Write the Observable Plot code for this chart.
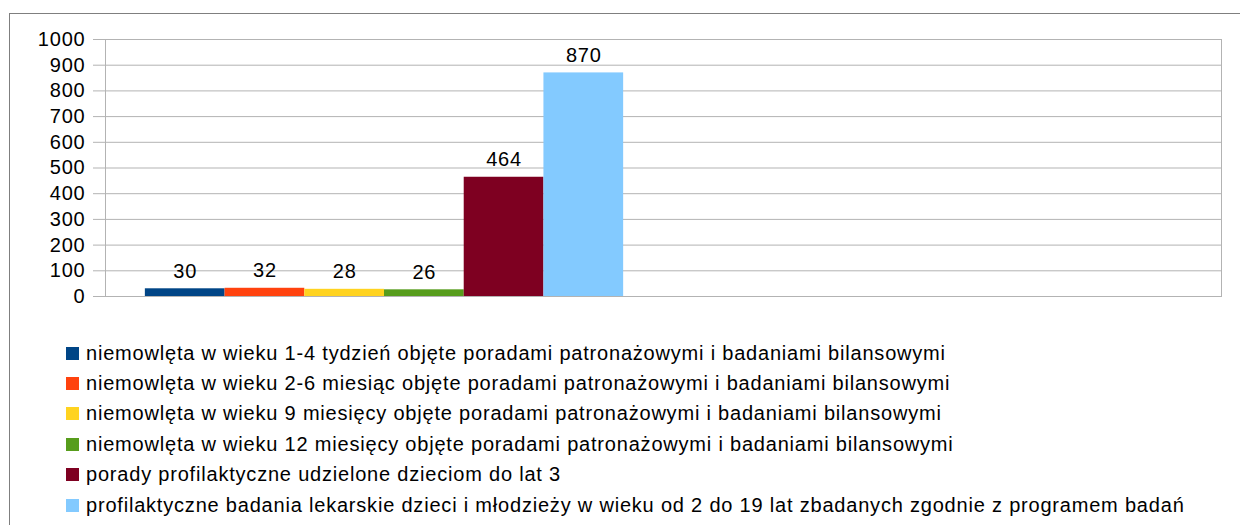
<!DOCTYPE html>
<html>
<head>
<meta charset="utf-8">
<script src="https://cdn.jsdelivr.net/npm/d3@7"></script>
<script src="https://cdn.jsdelivr.net/npm/@observablehq/plot@0.6"></script>
<style>
  html, body { margin: 0; padding: 0; background: #fff; width: 1240px; height: 525px; overflow: hidden; }
  body { position: relative; font-family: "Liberation Sans", Arial, sans-serif; }
  #frame { position: absolute; left: 9px; top: 13px; width: 1300px; height: 600px; border: 1px solid #7f7f7f; box-sizing: border-box; }
  #chart { position: absolute; left: 0; top: 0; }
  #legend { position: absolute; left: 66px; top: 338px; font-size: 20px; letter-spacing: 0.8px; color: #000; }
  .item { display: flex; align-items: center; height: 30.4px; white-space: nowrap; }
  .sw { width: 13px; height: 13px; margin-right: 7px; flex: none; }
</style>
</head>
<body>
<div id="frame"></div>
<div id="chart"></div>
<div id="legend"></div>
<script>
const series = [
  "niemowlęta w wieku 1-4 tydzień objęte poradami patronażowymi i badaniami bilansowymi",
  "niemowlęta w wieku 2-6 miesiąc objęte poradami patronażowymi i badaniami bilansowymi",
  "niemowlęta w wieku 9 miesięcy objęte poradami patronażowymi i badaniami bilansowymi",
  "niemowlęta w wieku 12 miesięcy objęte poradami patronażowymi i badaniami bilansowymi",
  "porady profilaktyczne udzielone dzieciom do lat 3",
  "profilaktyczne badania lekarskie dzieci i młodzieży w wieku od 2 do 19 lat zbadanych zgodnie z programem badań"
];
const values = [30, 32, 28, 26, 464, 870];
const colors = ["#004586", "#ff420e", "#ffd320", "#579d1c", "#7e0021", "#83caff"];
const yTicks = [0, 100, 200, 300, 400, 500, 600, 700, 800, 900, 1000];

const data = series.map((s, i) => ({name: s, value: values[i]}));

const chart = Plot.plot({
  width: 1240,
  height: 300,
  marginLeft: 105,
  marginRight: 19,
  marginTop: 39,
  marginBottom: 4,
  style: {fontFamily: "'Liberation Sans', Arial, sans-serif", fontSize: "20px", letterSpacing: "0.8px", color: "#000", background: "transparent", overflow: "visible"},
  x: {domain: series, paddingInner: 0, paddingOuter: 4, align: 0.0625, round: false, axis: null},
  y: {domain: [0, 1000], ticks: yTicks},
  color: {domain: series, range: colors},
  marks: [
    Plot.gridY(yTicks, {stroke: "#b3b3b3", strokeOpacity: 1}),
    Plot.frame({stroke: "#b3b3b3"}),
    Plot.axisY(yTicks, {tickSize: 12, tickPadding: 8, stroke: "#b3b3b3", fill: "#000", label: null, fontSize: 20, tickFormat: d => String(d)}),
    Plot.barY(data, {x: "name", y: "value", fill: "name", inset: 0}),
    Plot.text(data, {x: "name", y: "value", text: d => String(d.value), lineAnchor: "bottom", dy: -11, fill: "#000", fontSize: 20})
  ]
});
document.getElementById("chart").appendChild(chart);

const legend = document.getElementById("legend");
series.forEach((s, i) => {
  const row = document.createElement("div");
  row.className = "item";
  const sw = document.createElement("span");
  sw.className = "sw";
  sw.style.background = colors[i];
  const t = document.createElement("span");
  t.textContent = s;
  row.appendChild(sw);
  row.appendChild(t);
  legend.appendChild(row);
});
</script>
</body>
</html>
